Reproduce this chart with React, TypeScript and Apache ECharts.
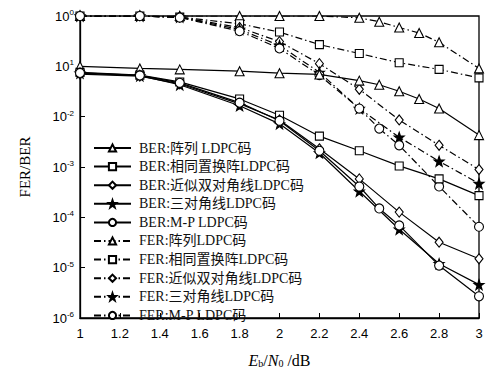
import React, { useEffect, useRef } from "react";
import * as echarts from "echarts";

const xArray = [1, 1.3, 1.5, 1.8, 2.0, 2.2, 2.4, 2.5, 2.6, 2.7, 2.8, 3.0];
const berArray = [0.1, 0.091, 0.087, 0.08, 0.073, 0.069, 0.052, 0.043, 0.032, 0.0225, 0.0145, 0.0043];
const ferArray = [1, 1, 1, 1, 1, 1, 0.92, 0.77, 0.59, 0.46, 0.3, 0.091];

const xStd = [1, 1.3, 1.5, 1.8, 2.0, 2.2, 2.4, 2.6, 2.8, 3.0];
const berSame = [0.076, 0.067, 0.049, 0.0225, 0.0107, 0.0041, 0.0021, 0.00105, 0.00058, 0.00027];
const ferSame = [1, 1, 0.95, 0.7, 0.48, 0.27, 0.18, 0.118, 0.087, 0.059];
const berDual = [0.07, 0.064, 0.045, 0.018, 0.0086, 0.0023, 0.00058, 0.000127, 0.000032, 0.000015];
const ferDual = [1, 1, 0.95, 0.59, 0.31, 0.113, 0.035, 0.0086, 0.0027, 0.00089];
const berTri = [0.073, 0.065, 0.043, 0.0165, 0.0072, 0.0019, 0.00033, 0.000058, 0.000012, 0.0000046];
const ferTri = [1, 1, 0.95, 0.54, 0.26, 0.076, 0.0145, 0.0039, 0.0013, 0.00047];

const xMP = [1, 1.3, 1.5, 1.8, 2.0, 2.2, 2.4, 2.5, 2.6, 2.8, 3.0];
const berMP = [0.074, 0.066, 0.047, 0.019, 0.0083, 0.0021, 0.00041, 0.00015, 0.000069, 0.000011, 0.0000027];
const ferMP = [1, 1, 0.93, 0.5, 0.227, 0.067, 0.0145, 0.0058, 0.0027, 0.00041, 0.000065];

const names = [
  "BER:阵列 LDPC码",
  "BER:相同置换阵LDPC码",
  "BER:近似双对角线LDPC码",
  "BER:三对角线LDPC码",
  "BER:M-P LDPC码",
  "FER:阵列LDPC码",
  "FER:相同置换阵LDPC码",
  "FER:近似双对角线LDPC码",
  "FER:三对角线LDPC码",
  "FER:M-P LDPC码",
];

function starPath(): string {
  const pts: string[] = [];
  for (let i = 0; i < 10; i++) {
    const r = i % 2 === 0 ? 10 : 4;
    const a = -Math.PI / 2 + (i * Math.PI) / 5;
    pts.push(`${(r * Math.cos(a)).toFixed(2)},${(r * Math.sin(a)).toFixed(2)}`);
  }
  return "path://M" + pts.join("L") + "Z";
}

const SERIF = "'Liberation Serif', 'Noto Sans CJK SC', serif";
const SANS = "'Liberation Sans', Arial, sans-serif";

export default function App() {
  const ref = useRef<HTMLDivElement>(null);
  useEffect(() => {
    if (!ref.current) return;
    const chart = echarts.init(ref.current, undefined, { renderer: "svg" });
    const star = starPath();
    const zip = (xs: number[], ys: number[]) => xs.map((x, i) => [x, ys[i]]);
    const mk = (
      name: string,
      xs: number[],
      ys: number[],
      symbol: string,
      size: number | number[],
      fer: boolean,
      filled = false
    ) => ({
      name,
      type: "line",
      data: zip(xs, ys),
      symbol,
      symbolSize: size,
      showAllSymbol: true,
      lineStyle: {
        color: "#000",
        width: 1.2,
        type: fer ? [7, 3, 1.5, 3] : "solid",
      },
      itemStyle: {
        color: filled ? "#000" : "#fff",
        borderColor: "#000",
        borderWidth: 1.1,
      },
      z: fer ? 2 : 3,
    });
    const diamond = "path://M0,-10L8,0L0,10L-8,0Z";
    const series = [
      mk(names[0], xArray, berArray, "triangle", 9, false),
      mk(names[1], xStd, berSame, "rect", 8, false),
      mk(names[2], xStd, berDual, diamond, [8, 10], false),
      mk(names[3], xStd, berTri, star, 10, false, true),
      mk(names[4], xMP, berMP, "circle", 9, false),
      mk(names[5], xArray, ferArray, "triangle", 9, true),
      mk(names[6], xStd, ferSame, "rect", 8, true),
      mk(names[7], xStd, ferDual, diamond, [8, 10], true),
      mk(names[8], xStd, ferTri, star, 10, true, true),
      mk(names[9], xMP, ferMP, "circle", 9, true),
    ];
    chart.setOption({
      animation: false,
      backgroundColor: "#fff",
      grid: {
        left: 80,
        right: 13,
        top: 16,
        bottom: 41,
        show: true,
        borderColor: "#000",
        borderWidth: 1.3,
      },
      legend: {
        orient: "vertical",
        left: 88,
        top: 136,
        height: 200,
        itemWidth: 37,
        itemHeight: 9,
        itemGap: 4.6,
        data: names,
        textStyle: {
          fontFamily: SERIF,
          fontSize: 14,
          color: "#111",
          padding: [0, 0, 0, 3],
        },
      },
      xAxis: {
        type: "value",
        min: 1,
        max: 3,
        interval: 0.2,
        name: "{i|E}{sub|b}{n|/}{i|N}{sub|0}{n| /dB}",
        nameLocation: "middle",
        nameGap: 34,
        nameTextStyle: {
          rich: {
            i: { fontFamily: SERIF, fontSize: 16, fontStyle: "italic", color: "#000" },
            n: { fontFamily: SERIF, fontSize: 16, color: "#000" },
            sub: { fontFamily: SERIF, fontSize: 10, color: "#000", padding: [7, 0, 0, 0] },
          },
        },
        axisLine: { show: true, lineStyle: { color: "#000", width: 1.3 } },
        axisTick: { show: true, inside: true, length: 5, lineStyle: { color: "#000" } },
        axisLabel: {
          color: "#000",
          fontFamily: SANS,
          fontSize: 13,
          margin: 9,
          formatter: (v: number) => String(+v.toFixed(1)),
        },
        splitLine: { show: false },
      },
      yAxis: {
        type: "log",
        logBase: 10,
        min: 1e-6,
        max: 1,
        name: "FER/BER",
        nameLocation: "middle",
        nameGap: 48,
        nameTextStyle: { fontFamily: SERIF, fontSize: 15, color: "#000" },
        axisLine: { show: true, lineStyle: { color: "#000", width: 1.3 } },
        axisTick: { show: true, inside: true, length: 5, lineStyle: { color: "#000" } },
        axisLabel: {
          color: "#000",
          margin: 6,
          formatter: (v: number) => {
            const e = Math.round(Math.log10(v));
            const sup = e === -1 ? "1" : String(e);
            return `{b|10}{s|${sup}}`;
          },
          rich: {
            b: { fontFamily: SANS, fontSize: 13, color: "#000" },
            s: { fontFamily: SANS, fontSize: 8, color: "#000", padding: [0, 0, 7, 0] },
          },
        },
        splitLine: { show: false },
      },
      series,
    } as any);
    return () => chart.dispose();
  }, []);
  return (
    <div
      ref={ref}
      style={{ position: "fixed", left: 0, top: 0, width: 492, height: 374 }}
    />
  );
}
